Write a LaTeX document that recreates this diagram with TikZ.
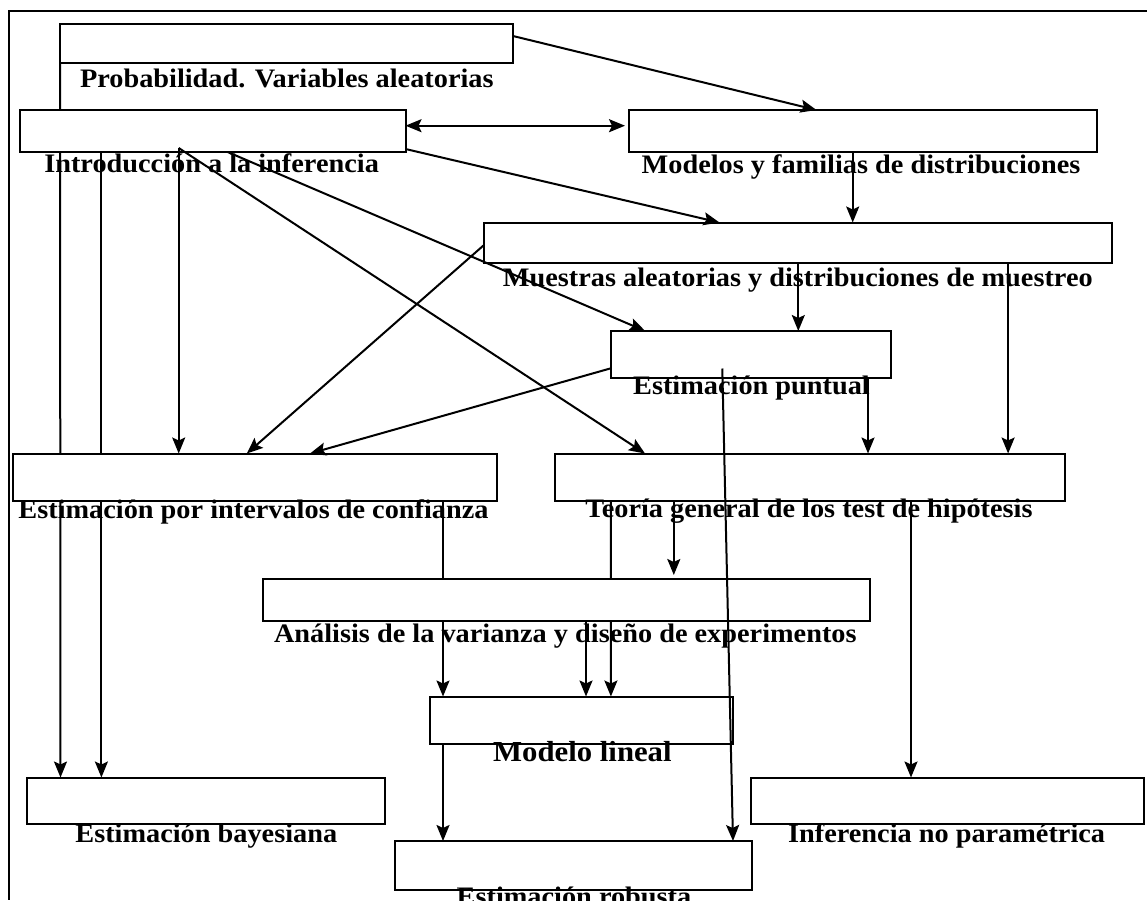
\documentclass[tikz,border=0pt]{standalone}
\usepackage{fontspec}
\setmainfont{Liberation Serif}[FakeStretch=1.06]
\usepackage{tikz}
\usetikzlibrary{positioning,arrows.meta,backgrounds}
\tikzstyle{caja} = [rectangle, draw=black, fill=white, line width=2pt, inner sep=0pt, outer sep=0pt, anchor=north west]
\tikzstyle{rotulo} = [inner sep=0pt, anchor=base, font=\bfseries\fontsize{26.7}{30}\selectfont]
\tikzstyle{linea} = [line width=2pt]
\tikzstyle{flecha} = [line width=2pt, -{Stealth[length=16pt,width=13pt,inset=3pt]}]
\tikzstyle{flechas} = [line width=2pt, {Stealth[length=16pt,width=13pt,inset=3pt]}-{Stealth[length=16pt,width=13pt,inset=3pt]}]

\begin{document}
\begin{tikzpicture}[x=1pt, y=-1pt]
			\useasboundingbox (0,0) rectangle (1147,900);
			\draw [linea] (1147,11) -- (8.5,11) -- (8.5,900);
			%-----------------------------------------------
			\node (prob) [caja, minimum width=453pt, minimum height=39pt] at (60,24) {};
			\node (intro) [caja, minimum width=385.5pt, minimum height=42pt] at (20,110) {};
			\node (modelos) [caja, minimum width=468pt, minimum height=42pt] at (628.5,110) {};
			\node (muestras) [caja, minimum width=627.5pt, minimum height=40pt] at (484,222.5) {};
			\node (puntual) [caja, minimum width=280pt, minimum height=46.5pt] at (611,331) {};
			\node (interv) [caja, minimum width=484pt, minimum height=47.5pt] at (12.5,453.5) {};
			\node (teoria) [caja, minimum width=510pt, minimum height=47.5pt] at (555.3,453.5) {};
			\node (anova) [caja, minimum width=607pt, minimum height=41.5pt] at (262.5,579) {};
			\node (lineal) [caja, minimum width=303.5pt, minimum height=47pt] at (429.5,696.5) {};
			\node (bayes) [caja, minimum width=357.5pt, minimum height=46pt] at (27,777.5) {};
			\node (noparam) [caja, minimum width=392.5pt, minimum height=46pt] at (751.3,777.5) {};
			\node (robusta) [caja, minimum width=356.3pt, minimum height=49pt] at (395.2,841) {};
			%-----------------------------------------------
			\node (tprob) [rotulo] at (286.8,87.3) {Probabilidad. Variables aleatorias};
			\node (tintro) [rotulo] at (211.6,172.7) {Introducción a la inferencia};
			\node (tmodelos) [rotulo] at (861,173.3) {Modelos y familias de distribuciones};
			\node (tmuestras) [rotulo] at (797.8,286) {Muestras aleatorias y distribuciones de muestreo};
			\node (tpuntual) [rotulo] at (751.5,394.3) {Estimación puntual};
			\node (tinterv) [rotulo] at (253.5,518.3) {Estimación por intervalos de confianza};
			\node (tteoria) [rotulo] at (809,517.7) {Teoría general de los test de hipótesis};
			\node (tanova) [rotulo] at (565.3,642.3) {Análisis de la varianza y diseño de experimentos};
			\node (tlineal) [rotulo, font=\bfseries\fontsize{29}{32}\selectfont] at (582.4,761.7) {Modelo lineal};
			\node (tbayes) [rotulo] at (206.3,842.3) {Estimación bayesiana};
			\node (tnoparam) [rotulo] at (946.6,842.3) {Inferencia no paramétrica};
			\node (trobusta) [rotulo] at (574,905) {Estimación robusta};
			%-----------------------------------------------
			% these run behind the boxes
			\begin{pgfonlayer}{background}
			\draw [flecha] (prob.south west) -- ([xshift=33.5pt]bayes.north west);
			\draw [flecha] ([xshift=81.4pt]intro.south west) -- ([xshift=74.4pt]bayes.north west);
			\draw [flecha] ([xshift=430.5pt]interv.south west) -- ([xshift=13.5pt]lineal.north west);
			\draw [flecha] ([xshift=55.6pt]teoria.south west) -- ([xshift=181.4pt]lineal.north west);
			\end{pgfonlayer}
			%-----------------------------------------------
			\draw [flecha] ([xshift=158.7pt,yshift=4pt]intro.south west) -- ([xshift=166.2pt]interv.north west);
			\draw [flecha] ([xshift=158.7pt,yshift=4pt]intro.south west) -- ([xshift=89.7pt]teoria.north west);
			\draw [flecha] ([xshift=207.7pt]intro.south west) -- ([xshift=34.2pt]puntual.north west);
			\draw [flechas] ([yshift=5.3pt]intro.east) -- ([xshift=-3.5pt,yshift=5.3pt]modelos.west);
			\draw [flecha] ([yshift=3pt]intro.south east) -- ([xshift=235.5pt]muestras.north west);
			\draw [flecha] ([yshift=7.5pt]prob.east) -- ([xshift=188pt]modelos.north west);
			\draw [flecha] ([xshift=224.2pt]modelos.south west) -- ([xshift=368.7pt]muestras.north west);
			\draw [flecha] ([xshift=314.3pt]muestras.south west) -- ([xshift=187.3pt]puntual.north west);
			\draw [flecha] ([xshift=524.1pt]muestras.south west) -- ([xshift=452.8pt]teoria.north west);
			\draw [flecha] ([yshift=-2.5pt]muestras.west) -- ([xshift=234.3pt]interv.north west);
			\draw [flecha] ([yshift=-14pt]puntual.west) -- ([xshift=297.5pt]interv.north west);
			\draw [flecha] ([xshift=257pt]puntual.south west) -- ([xshift=312.7pt]teoria.north west);
			\draw [flecha] ([xshift=111.3pt,yshift=9pt]puntual.south west) -- ([xshift=337.8pt]robusta.north west);
			\draw [flecha] ([xshift=118.5pt]teoria.south west) -- ([xshift=411.3pt,yshift=4pt]anova.north west);
			\draw [flecha] ([xshift=323.5pt]anova.south west) -- ([xshift=156.5pt]lineal.north west);
			\draw [flecha] ([xshift=355.7pt]teoria.south west) -- ([xshift=159.7pt]noparam.north west);
			\draw [flecha] ([xshift=13.5pt]lineal.south west) -- ([xshift=47.8pt]robusta.north west);
\end{tikzpicture}
\end{document}
